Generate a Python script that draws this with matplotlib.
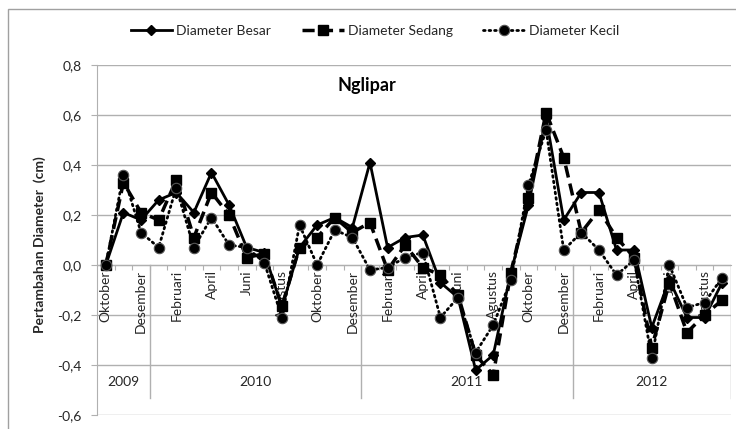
import matplotlib
matplotlib.use("Agg")
import matplotlib.pyplot as plt
from matplotlib.patches import Rectangle

plt.rcParams['font.family'] = ['Lato', 'DejaVu Sans']

# monthly values, Oktober 2009 .. September 2012
besar = [0.00, 0.21, 0.18, 0.26, 0.29, 0.21, 0.37, 0.24, 0.07, 0.05,
         -0.17, 0.07, 0.16, 0.19, 0.15, 0.41, 0.07, 0.11, 0.12, -0.07,
         -0.13, -0.42, -0.36, -0.03, 0.24, 0.59, 0.18, 0.29, 0.29, 0.06,
         0.06, -0.25, -0.06, -0.21, -0.21, -0.07]
sedang = [0.00, 0.33, 0.21, 0.18, 0.34, 0.11, 0.29, 0.20, 0.03, 0.045,
          -0.165, 0.07, 0.11, 0.19, 0.13, 0.17, -0.02, 0.08, -0.01, -0.04,
          -0.12, -0.36, -0.44, -0.03, 0.27, 0.61, 0.43, 0.13, 0.22, 0.11,
          0.03, -0.33, -0.07, -0.27, -0.20, -0.14]
kecil = [0.00, 0.36, 0.13, 0.07, 0.31, 0.07, 0.19, 0.08, 0.07, 0.01,
         -0.21, 0.16, 0.00, 0.14, 0.11, -0.02, -0.01, 0.03, 0.05, -0.21,
         -0.13, -0.35, -0.24, -0.06, 0.32, 0.54, 0.06, 0.13, 0.06, -0.04,
         0.02, -0.37, 0.00, -0.17, -0.15, -0.05]

month_labels = ["Oktober", "Desember", "Februari", "April", "Juni", "Agustus"] * 3
years = ["2009", "2010", "2011", "2012"]
year_months = [3, 12, 12, 9]

txt = '#262626'
grid = '#b0b0b0'
fs = 10

fig = plt.figure(figsize=(7.36, 4.29), dpi=100)
ax = fig.add_axes([97/736, 1-415/429, 634/736, 350/429])

x = list(range(len(besar)))
ax.plot(x, besar, color='black', lw=2, marker='D', ms=5, label='Diameter Besar', zorder=5)
ax.plot(x, sedang, color='black', lw=2.5, ls=(0, (3.5, 1.8)), marker='s', ms=7.5,
        label='Diameter Sedang', zorder=5)
ax.plot(x, kecil, color='black', lw=2, ls=(0, (0.6, 1.4)), dash_capstyle='round',
        marker='o', ms=7.5, mec='#555555', mew=0.8, label='Diameter Kecil', zorder=6)

ax.set_ylim(-0.6, 0.8)
ax.set_xlim(-0.5, len(besar) - 0.5)
yt = [-0.6, -0.4, -0.2, 0.0, 0.2, 0.4, 0.6, 0.8]
ax.set_yticks(yt)
ax.set_yticklabels([("%.1f" % v).replace('.', ',') for v in yt], color=txt, fontsize=fs)
ax.tick_params(axis='y', length=4, pad=7, color=grid)
ax.yaxis.grid(True, color=grid, lw=1)
ax.set_axisbelow(True)

# category axis crossing at zero
ax.spines['bottom'].set_position(('data', 0))
ax.spines['bottom'].set_color(grid)
ax.set_xticks([i + 0.5 for i in range(len(besar) - 1)])
ax.set_xticklabels([])
ax.tick_params(axis='x', length=3.5, color=grid, direction='out')
ax.spines['left'].set_color(grid)
ax.spines['top'].set_visible(False)
ax.spines['right'].set_visible(False)

for k, lab in enumerate(month_labels):
    ax.text(2 * k, -0.02, lab, rotation=90, ha='center', va='top', fontsize=fs,
            color=txt, zorder=2)

start = -0.5
for yr, n in zip(years, year_months):
    end = start + n
    ax.text((start + end) / 2, -0.468, yr, ha='center', va='center', fontsize=fs, color=txt)
    ax.plot([end, end], [0, -0.532], color=grid, lw=1, zorder=1)
    start = end

ax.text(0.425, 0.94, "Nglipar", transform=ax.transAxes, ha='center', va='center',
        fontsize=13, fontweight='bold', color='black')

fig.text(40/736, 1-245/429, "Pertambahan Diameter  (cm)", rotation=90, ha='center',
         va='center', fontsize=fs, fontweight='bold', color=txt)

fig.legend(loc='center', bbox_to_anchor=(375/736, 1-31/429), ncol=3, frameon=False,
           fontsize=fs, handlelength=3.0, columnspacing=2.2, handletextpad=0.3,
           labelcolor=txt)

fig.patches.append(Rectangle((8/736, -0.05), 1.1, 1-9/429+0.05, transform=fig.transFigure,
                             fill=False, edgecolor='#a0a0a0', lw=1))

fig.savefig("out.png", dpi=100)
